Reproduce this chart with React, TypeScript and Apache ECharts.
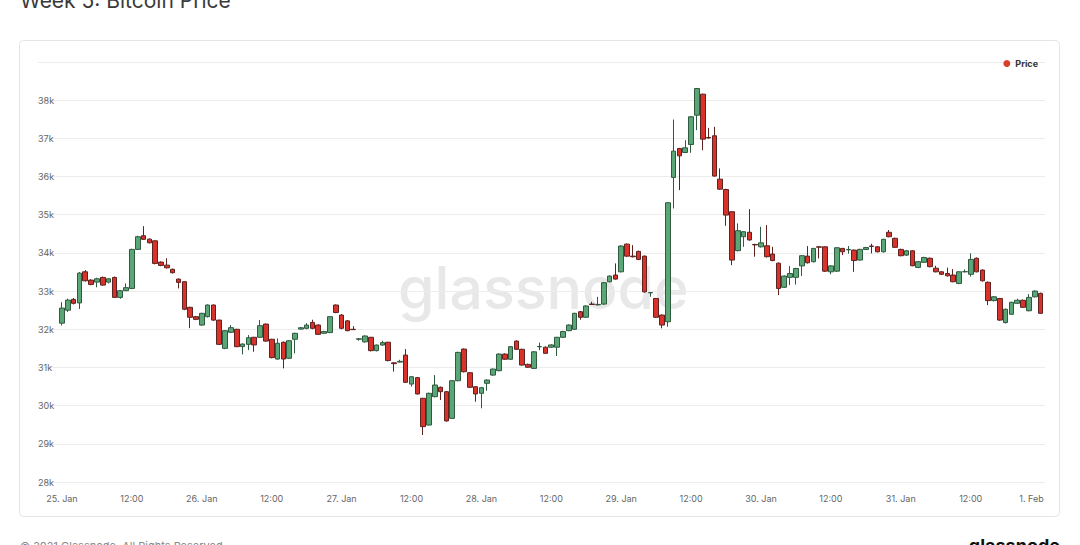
import React, { useEffect, useRef } from "react";
import * as echarts from "echarts";

const tickLabels = ["25. Jan", "12:00", "26. Jan", "12:00", "27. Jan", "12:00", "28. Jan", "12:00", "29. Jan", "12:00", "30. Jan", "12:00", "31. Jan", "12:00", "1. Feb"];

const opens = [
  32160, 32500, 32783, 32690, 33505, 33288, 33235, 33358, 33235, 33358,
  32835, 33010, 33070, 34092, 34450, 34361, 34317, 33759, 33680, 33570,
  33314, 33246, 32575, 32330, 32110, 32330, 32635, 32240, 31500, 31920,
  32000, 31545, 31605, 31790, 31790, 32136, 31738, 31220, 31660, 31240,
  31738, 32005, 32025, 32180, 32110, 31895, 31913, 32635, 32372, 32220,
  32000, 31740, 31670, 31790, 31440, 31587, 31660, 31120, 31140, 31325,
  30565, 30733, 30193, 29492, 30235, 30480, 30365, 29667, 30652, 31481,
  30862, 30495, 30323, 30585, 30800, 30915, 31350, 31215, 31690, 31475,
  31080, 30975, 31540, 31530, 31530, 31530, 31790, 31963, 32000, 32460,
  32314, 32660, 32640, 32660, 33245, 33420, 33505, 34230, 33916, 34040,
  33916, 32955, 32807, 32372, 32197, 35977, 36735, 36630, 36840, 37607,
  38157, 37023, 37068, 35932, 35660, 35078, 34058, 34424, 34540, 34220,
  34160, 34187, 33970, 33730, 33100, 33360, 33360, 33660, 33916, 33770,
  34160, 34160, 33505, 33522, 34118, 34080, 34073, 33812, 34090, 34180,
  34160, 34030, 34540, 34382, 34092, 33942, 34056, 33620, 33754, 33860,
  33600, 33505, 33460, 33420, 33200, 33505, 33440, 33860, 33550, 33230,
  32750, 32807, 32175, 32393, 32680, 32760, 32485, 32850, 32940,
];

const closes = [
  32555, 32764, 32680, 33470, 33270, 33175, 33322, 33157, 33322, 32835,
  33010, 33090, 34092, 34424, 34356, 34264, 33725, 33672, 33610, 33481,
  33228, 32524, 32314, 32260, 32418, 32635, 32240, 31605, 31963, 32042,
  31545, 31613, 31780, 31590, 32095, 31690, 31257, 31633, 31220, 31700,
  31894, 32040, 32110, 32025, 31868, 31940, 32330, 32440, 32025, 31963,
  31990, 31750, 31824, 31440, 31587, 31650, 31180, 31100, 31160, 30610,
  30757, 30306, 29450, 30323, 30540, 30365, 29600, 30652, 31395, 30888,
  30480, 30306, 30470, 30670, 30958, 31350, 31215, 31545, 31475, 31063,
  31005, 31410, 31550, 31370, 31590, 31790, 31940, 32110, 32418, 32314,
  32610, 32650, 32650, 33220, 33393, 33314, 34180, 33915, 33900, 33830,
  32980, 32960, 32314, 32110, 35314, 36665, 36542, 36752, 37565, 38306,
  36980, 37010, 36013, 35670, 34990, 33812, 34582, 34555, 34340, 34210,
  34264, 33900, 33800, 33070, 33393, 33460, 33590, 33927, 33742, 34118,
  34150, 33522, 33660, 34135, 34030, 34090, 33800, 34092, 34140, 34170,
  34030, 34356, 34424, 34146, 33927, 34056, 33664, 33770, 33880, 33640,
  33505, 33440, 33400, 33245, 33505, 33510, 33830, 33505, 33270, 32750,
  32850, 32240, 32524, 32707, 32760, 32575, 32835, 33000, 32418,
];

const lows = [
  32100, 32450, 32650, 32530, 33250, 33150, 33100, 33140, 33200, 32820,
  32800, 33000, 33050, 34080, 34340, 34250, 33700, 33650, 33590, 33460,
  33070, 32500, 32030, 32240, 32090, 32310, 32220, 31590, 31480, 31900,
  31530, 31340, 31455, 31410, 31780, 31670, 31240, 31200, 30976, 31220,
  31370, 31990, 32000, 32000, 31850, 31880, 31900, 32420, 32000, 31950,
  31980, 31700, 31650, 31420, 31420, 31570, 31160, 30890, 31130, 30600,
  30500, 30290, 29230, 29480, 30220, 30146, 29580, 29650, 30640, 30870,
  30460, 30103, 29930, 30390, 30780, 30900, 31200, 31200, 31460, 31050,
  30990, 30960, 31450, 31350, 31510, 31300, 31770, 31950, 31980, 32250,
  32300, 32640, 32620, 32640, 33230, 33300, 33490, 33900, 33880, 33810,
  32960, 32850, 32300, 32025, 32067, 35165, 35644, 36620, 36620, 37215,
  36690, 36990, 36000, 35650, 34710, 33680, 34040, 34160, 34320, 33900,
  34140, 33880, 33780, 32895, 33080, 33157, 33170, 33393, 33720, 33750,
  33856, 33500, 33440, 33500, 33942, 33980, 33505, 33800, 34080, 33987,
  34010, 34010, 34410, 34130, 33910, 33920, 33650, 33600, 33740, 33620,
  33490, 33420, 33380, 33230, 33180, 33490, 33380, 33490, 33250, 32633,
  32730, 32220, 32150, 32380, 32660, 32560, 32470, 32830, 32400,
];

const highs = [
  32710, 32800, 32820, 33500, 33550, 33310, 33350, 33380, 33340, 33380,
  33030, 33200, 34110, 34450, 34700, 34380, 34330, 33780, 33860, 33590,
  33330, 33260, 32590, 32350, 32430, 32650, 32650, 32250, 31980, 32110,
  32010, 31630, 31848, 31800, 32240, 32150, 31750, 31761, 31680, 31720,
  31910, 32060, 32160, 32250, 32130, 31960, 32340, 32650, 32400, 32240,
  32080, 31770, 31840, 31800, 31600, 31700, 31670, 31130, 31200, 31481,
  30770, 30750, 30200, 30340, 30800, 30500, 30380, 30670, 31410, 31500,
  30880, 30510, 30490, 30690, 30970, 31370, 31370, 31560, 31710, 31490,
  31100, 31430, 31650, 31550, 31610, 31800, 31960, 32130, 32430, 32480,
  32630, 32720, 32850, 33240, 33410, 33725, 34200, 34250, 34204, 34060,
  33930, 32970, 32820, 32390, 35330, 37494, 36750, 36953, 37580, 38320,
  38170, 37275, 37301, 36212, 35680, 35090, 34772, 34570, 35146, 34240,
  34683, 34728, 34160, 33750, 33410, 33654, 33610, 33940, 34178, 34130,
  34170, 34170, 33680, 34150, 34130, 34180, 34090, 34110, 34160, 34240,
  34180, 34370, 34600, 34400, 34110, 34073, 34070, 33790, 33900, 33880,
  33664, 33520, 33612, 33576, 33520, 33570, 33987, 33880, 33570, 33250,
  32870, 32820, 32540, 32720, 32800, 32780, 32920, 33020, 32960,
];

const hours = opens.map((_, i) => String(i));

export default function App() {
  const ref = useRef<HTMLDivElement>(null);

  useEffect(() => {
    if (!ref.current) return;
    const chart = echarts.init(ref.current, null, { renderer: "svg" });
    const candleData = opens.map((o, i) => [o, closes[i], lows[i], highs[i]]);
    const font = "Inter, 'Liberation Sans', Arial, sans-serif";

    chart.setOption({
      animation: false,
      backgroundColor: "#ffffff",
      textStyle: { fontFamily: font },
      legend: {
        data: [{ name: "Price", itemStyle: { color: "#d9402b", borderWidth: 0 } }],
        icon: "circle",
        itemWidth: 7,
        itemHeight: 7,
        itemGap: 4,
        right: 37,
        top: 54,
        textStyle: { fontSize: 9, fontWeight: "bold", color: "#333333", fontFamily: font },
      },
      graphic: [
        {
          type: "text",
          left: 20,
          top: -10,
          style: { text: "Week 5: Bitcoin Price", fontSize: 21, fill: "#3a3a3a", fontFamily: font },
        },
        {
          type: "rect",
          shape: { x: 19.5, y: 40.5, width: 1040, height: 476, r: 4 },
          style: { fill: "none", stroke: "#e5e5e5", lineWidth: 1 },
          z: -20,
        },
        {
          type: "text",
          x: 398,
          y: 258,
          z: -10,
          style: { text: "glassnode", fontSize: 59, fontWeight: 500, fill: "#e8e8e8", fontFamily: font },
        },
        {
          type: "text",
          left: 20,
          top: 540,
          style: { text: "© 2021 Glassnode. All Rights Reserved.", fontSize: 11, fill: "#888888", fontFamily: font },
        },
        {
          type: "text",
          right: 20,
          top: 536,
          style: { text: "glassnode", fontSize: 18, fontWeight: "bold", fill: "#111111", fontFamily: font },
        },
      ],
      grid: [
        { left: 38, width: 1007, top: 62, height: 420 },
        { left: 59.1, width: 984.4, top: 62, height: 420 },
      ],
      xAxis: [
        { type: "value", gridIndex: 0, min: 0, max: 1, show: false },
        {
          type: "category",
          gridIndex: 1,
          data: hours,
          boundaryGap: true,
          axisLine: { show: false },
          axisTick: { show: false },
          splitLine: { show: false },
          axisLabel: {
            interval: (idx: number) => idx % 12 === 0,
            margin: 12,
            fontSize: 9,
            color: "#666666",
            fontFamily: font,
            formatter: (_v: string, idx: number) => {
              const label = tickLabels[Math.round(idx / 12)] || "";
              return idx === hours.length - 1 ? "{last|" + label + "}" : label;
            },
            rich: { last: { fontSize: 9, color: "#666666", fontFamily: font, padding: [0, 18, 0, 0] } },
          },
        },
      ],
      yAxis: [
        {
          type: "value",
          gridIndex: 0,
          min: 28000,
          max: 39000,
          interval: 1000,
          axisLine: { show: false },
          axisTick: { show: false },
          splitLine: { lineStyle: { color: "#ececec", width: 1 } },
          axisLabel: {
            inside: true,
            margin: 0,
            showMaxLabel: false,
            fontSize: 9,
            color: "#666666",
            fontFamily: font,
            formatter: (v: number) => v / 1000 + "k",
          },
        },
        { type: "value", gridIndex: 1, min: 28000, max: 39000, interval: 1000, show: false },
      ],
      series: [
        { type: "line", xAxisIndex: 0, yAxisIndex: 0, data: [], silent: true },
        {
          name: "Price",
          type: "candlestick",
          xAxisIndex: 1,
          yAxisIndex: 1,
          data: candleData,
          barWidth: "88%",
          itemStyle: {
            color: "#5aa677",
            color0: "#d8322a",
            borderColor: "#2f5a3f",
            borderColor0: "#5e2320",
            borderWidth: 1,
          },
        },
      ],
    });
    return () => chart.dispose();
  }, []);

  return (
    <div
      ref={ref}
      style={{ position: "fixed", left: 0, top: 0, width: 1080, height: 545 }}
    />
  );
}
